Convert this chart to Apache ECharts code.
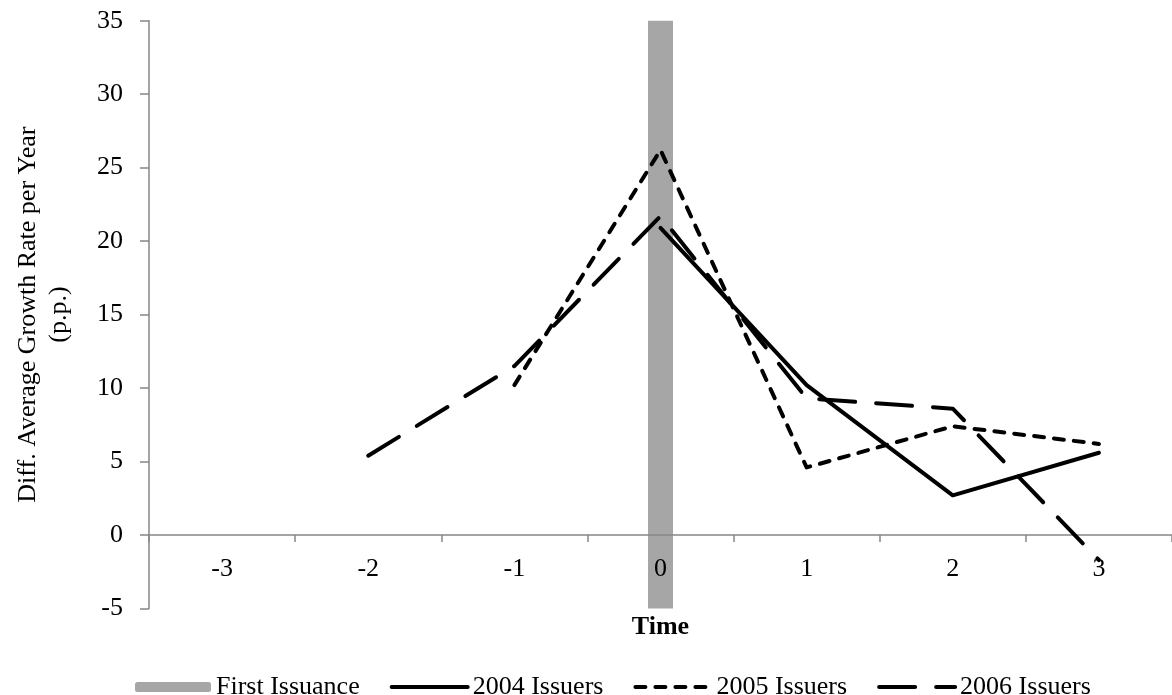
<!DOCTYPE html>
<html>
<head>
<meta charset="utf-8">
<script src="https://cdn.jsdelivr.net/npm/echarts@6/dist/echarts.min.js"></script>
<style>html,body{margin:0;padding:0;background:#fff}#c{width:1172px;height:695px}</style>
</head>
<body>
<div id="c"></div>
<script>
var categories = ['-3', '-2', '-1', '0', '1', '2', '3'];
var issuanceTop = [null, null, null, 35, null, null, null];
var issuanceBottom = [null, null, null, -5, null, null, null];
var issuers2004 = [null, null, null, 20.9, 10.2, 2.7, 5.6];
var issuers2005 = [null, null, 10.2, 26.2, 4.6, 7.4, 6.2];
var issuers2006 = [null, 5.4, 11.5, 21.7, 9.3, 8.6, -1.7];
var yTicks = {min: -5, max: 35, interval: 5};

var FONT = 'Liberation Serif';
var DASH_2005 = [10, 10];
var DASH_2006 = [36, 21];
var chart = echarts.init(document.getElementById('c'));
function lineSeries(name, data, type) {
  return {
    name: name, type: 'line', data: data, symbol: 'none', connectNulls: false,
    lineStyle: {color: '#000', width: 4, type: type, cap: 'round', join: 'round'},
    itemStyle: {color: '#000'}, z: 5
  };
}
function legendLine(name, type) {
  return {
    name: name,
    itemStyle: {color: 'rgba(0,0,0,0)', borderColor: 'rgba(0,0,0,0)', borderWidth: 0},
    lineStyle: {color: '#000', width: 4, type: type, cap: 'round'}
  };
}
chart.setOption({
  animation: false,
  textStyle: {fontFamily: FONT, color: '#000'},
  grid: {left: 149, right: 0, top: 20.7, bottom: 86.5},
  legend: {
    left: 130, top: 669, itemWidth: 76, itemHeight: 10, itemGap: 30,
    data: [
      {name: 'First Issuance', itemStyle: {color: '#a6a6a6'}},
      legendLine('2004 Issuers', 'solid'),
      legendLine('2005 Issuers', DASH_2005),
      legendLine('2006 Issuers', DASH_2006)
    ],
    textStyle: {fontFamily: FONT, fontSize: 26, color: '#000'}
  },
  xAxis: {
    type: 'category', data: categories, boundaryGap: true, z: 3,
    name: 'Time', nameLocation: 'middle', nameGap: 6,
    nameTextStyle: {fontFamily: FONT, fontSize: 26, fontWeight: 'bold', color: '#000'},
    axisLine: {onZero: true, lineStyle: {color: '#868686', width: 1.5}},
    axisTick: {show: true, inside: false, length: 7, alignWithLabel: false, lineStyle: {color: '#868686', width: 1.5}},
    axisLabel: {fontFamily: FONT, fontSize: 26, color: '#000', margin: -52},
    splitLine: {show: false}
  },
  yAxis: {
    type: 'value', min: yTicks.min, max: yTicks.max, interval: yTicks.interval,
    name: 'Diff. Average Growth Rate per Year\n(p.p.)', nameLocation: 'middle', nameGap: 74, nameRotate: 90,
    nameTextStyle: {fontFamily: FONT, fontSize: 26, color: '#000', lineHeight: 31, align: 'center'},
    axisLine: {show: true, onZero: false, lineStyle: {color: '#868686', width: 1.5}},
    axisTick: {show: true, inside: false, length: 9, lineStyle: {color: '#868686', width: 1.5}},
    axisLabel: {fontFamily: FONT, fontSize: 26, color: '#000', margin: 26},
    splitLine: {show: false}
  },
  series: [
    {name: 'First Issuance', type: 'bar', stack: 'fi', data: issuanceTop, barWidth: 25,
     itemStyle: {color: '#a6a6a6'}, z: 1},
    {name: 'First Issuance', type: 'bar', stack: 'fi', data: issuanceBottom, barWidth: 25,
     itemStyle: {color: '#a6a6a6'}, z: 1},
    lineSeries('2004 Issuers', issuers2004, 'solid'),
    lineSeries('2005 Issuers', issuers2005, DASH_2005),
    lineSeries('2006 Issuers', issuers2006, DASH_2006)
  ]
});
</script>
</body>
</html>
